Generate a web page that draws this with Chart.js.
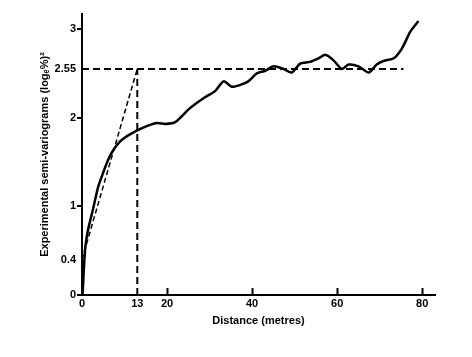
<!DOCTYPE html>
<html>
<head>
<meta charset="utf-8">
<script src="https://cdn.jsdelivr.net/npm/chart.js@4"></script>
<style>
  body { margin: 0; background: #fff; }
  canvas { display: block; }
</style>
</head>
<body>
<canvas id="chart" width="472" height="357"></canvas>
<script>
// semi-variogram
const distance = [0, 0.15, 0.47, 0.78, 1.4, 2.6, 3.8, 4.9, 6.1, 7.3, 8.9, 10.2, 11.6, 13.6, 15.5, 17.6, 19.6, 21.9, 25.2, 28.9, 31.3, 33.3, 35.2, 37.2, 39.1, 41.1, 43.1, 45.0, 47.4, 49.3, 51.3, 53.6, 55.6, 57.2, 59.1, 61.1, 62.7, 65.0, 67.4, 69.3, 70.9, 73.3, 75.2, 77.2, 79.1];
const semivariance = [0, 0.02, 0.32, 0.54, 0.73, 0.97, 1.22, 1.37, 1.52, 1.63, 1.73, 1.78, 1.82, 1.87, 1.91, 1.94, 1.93, 1.95, 2.10, 2.23, 2.30, 2.41, 2.35, 2.37, 2.41, 2.50, 2.53, 2.58, 2.55, 2.51, 2.61, 2.63, 2.67, 2.71, 2.65, 2.55, 2.60, 2.58, 2.51, 2.60, 2.64, 2.67, 2.78, 2.97, 3.09];

// sill, range and nugget guide lines
const sill = 2.55;
const range = 13;
const nugget = 0.4;
const sillEnd = 75.6;

const xTickValues = [0, 13, 20, 40, 60, 80];
const xMarkedTicks = [20, 40, 60, 80];
const yTickValues = [0, 0.4, 1, 2, 2.55, 3];
const yMarkedTicks = [0, 1, 2, 3];

const font = { family: "'Liberation Sans', Arial, sans-serif", size: 11, weight: "bold" };

let curve = distance.map((d, i) => ({ x: d, y: semivariance[i] }));

// small tick marks pointing up into the plot on the x axis
const innerTicks = {
    id: "innerTicks",
    afterDraw(chart) {
        let ctx = chart.ctx;
        let xs = chart.scales.x;
        let bottom = chart.chartArea.bottom;
        ctx.save();
        ctx.strokeStyle = "#000";
        ctx.lineWidth = 2;
        xMarkedTicks.forEach(v => {
            let px = Math.round(xs.getPixelForValue(v)) + 0.5;
            ctx.beginPath();
            ctx.moveTo(px, bottom);
            ctx.lineTo(px, bottom - 7);
            ctx.stroke();
        });
        ctx.restore();
    }
};

new Chart(document.getElementById("chart"), {
    type: "scatter",
    data: {
        datasets: [
            {
                data: curve,
                showLine: true,
                borderColor: "#000",
                borderWidth: 2.5,
                pointRadius: 0,
                tension: 0.25
            },
            {
                data: [{ x: 0, y: sill }, { x: sillEnd, y: sill }],
                showLine: true,
                borderColor: "#000",
                borderWidth: 2,
                borderDash: [7, 4],
                pointRadius: 0
            },
            {
                data: [{ x: range, y: 0 }, { x: range, y: sill }],
                showLine: true,
                borderColor: "#000",
                borderWidth: 2,
                borderDash: [7, 4],
                pointRadius: 0
            },
            {
                data: [{ x: 0, y: nugget }, { x: range, y: sill }],
                showLine: true,
                borderColor: "#000",
                borderWidth: 1.5,
                borderDash: [5, 3],
                pointRadius: 0
            }
        ]
    },
    options: {
        responsive: false,
        devicePixelRatio: 1,
        animation: false,
        layout: { padding: { top: 14, right: 37, left: 0, bottom: 0 } },
        plugins: {
            legend: { display: false },
            tooltip: { enabled: false }
        },
        scales: {
            x: {
                type: "linear",
                min: 0,
                max: 83,
                afterFit: scale => { scale.height = 62; },
                afterBuildTicks: scale => { scale.ticks = xTickValues.map(v => ({ value: v })); },
                border: { display: true, color: "#000", width: 2 },
                grid: { display: false, drawTicks: false },
                ticks: { color: "#000", font: font, padding: 2, maxRotation: 0, autoSkip: false },
                title: {
                    display: true,
                    text: "Distance (metres)",
                    color: "#000",
                    font: font,
                    padding: { top: 0, bottom: 29 }
                }
            },
            y: {
                type: "linear",
                min: 0,
                max: 3.17,
                afterFit: scale => { scale.width = 82; },
                afterBuildTicks: scale => { scale.ticks = yTickValues.map(v => ({ value: v })); },
                border: { display: true, color: "#000", width: 2 },
                grid: {
                    drawOnChartArea: false,
                    drawTicks: true,
                    tickLength: 5,
                    lineWidth: 2,
                    color: ctx => yMarkedTicks.includes(ctx.tick.value) ? "#000" : "rgba(0,0,0,0)"
                },
                ticks: {
                    color: "#000",
                    font: font,
                    padding: 1,
                    autoSkip: false,
                    callback: v => String(v)
                },
                title: {
                    display: true,
                    text: "Experimental semi-variograms (logₑ%)²",
                    color: "#000",
                    font: font,
                    padding: { top: 38, bottom: 0 }
                }
            }
        }
    },
    plugins: [innerTicks]
});
</script>
</body>
</html>
